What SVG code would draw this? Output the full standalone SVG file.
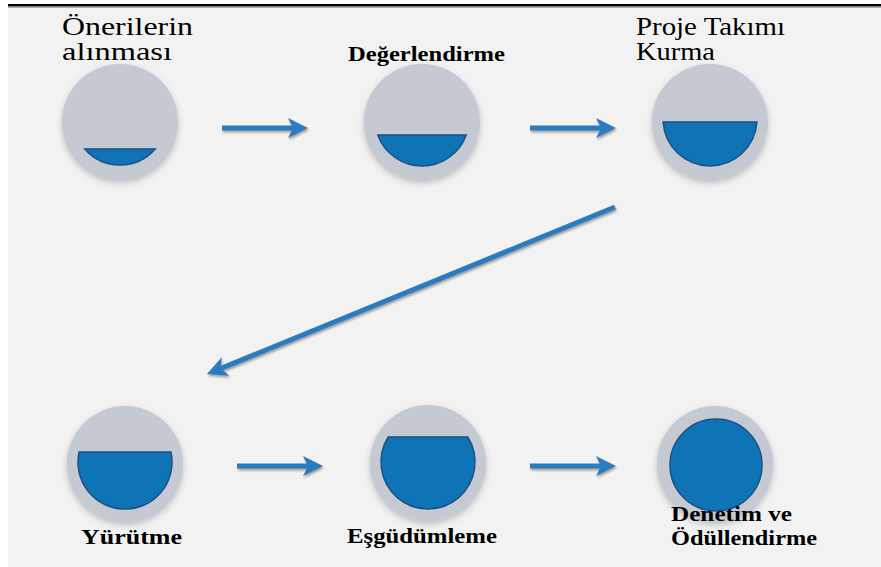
<svg xmlns="http://www.w3.org/2000/svg" width="881" height="567" viewBox="0 0 881 567">
<defs>
<style>
.bg{fill:#f2f2f2}
.disc{fill:#c5c9d1;filter:url(#halo)}
.seg{fill:#0f74b6;stroke:#1d4f86;stroke-width:1.5}
.lbl{font-family:"Liberation Serif","Times New Roman",serif;fill:#000}
.big{font-size:25px}
.mid{font-size:22px;font-weight:bold}
.arr{stroke:#2a7bc0;stroke-width:5;fill:none;marker-end:url(#head)}
</style>
<filter id="halo" x="-20%" y="-20%" width="140%" height="150%">
<feDropShadow dx="0" dy="3" stdDeviation="3" flood-color="#7d818a" flood-opacity="0.45"/>
</filter>
<filter id="ashadow" x="-10%" y="-10%" width="120%" height="130%">
<feDropShadow dx="1" dy="2" stdDeviation="0.8" flood-color="#8a8a8a" flood-opacity="0.8"/>
</filter>
<marker id="head" markerUnits="userSpaceOnUse" markerWidth="22" markerHeight="22" refX="8" refY="10" orient="auto" viewBox="0 0 22 20">
<path d="M0,0 L20,10 L0,20 L5,10 Z" fill="#2a7bc0"/>
</marker>
</defs>
<rect x="0" y="0" width="881" height="567" fill="#ffffff"/>
<rect class="bg" x="8" y="4" width="873" height="563"/>
<rect x="8" y="4" width="873" height="2.5" fill="#000"/>
<rect x="8" y="6.5" width="873" height="1.2" fill="#8c8c8c"/>

<g id="connectors" filter="url(#ashadow)">
<line class="arr" x1="222" y1="128" x2="296" y2="128"/>
<line class="arr" x1="530" y1="128" x2="604" y2="128"/>
<line class="arr" x1="615" y1="207" x2="218.1" y2="369.5"/>
<line class="arr" x1="237" y1="466" x2="311" y2="466"/>
<line class="arr" x1="530" y1="466" x2="604" y2="466"/>
</g>

<g id="n1">
<circle class="disc" cx="120" cy="122" r="58"/>
<path class="seg" d="M84.7,149 L155.3,149 A47,47 0 0 1 84.7,149 Z"/>
<text class="lbl big" x="62" y="35" textLength="131" lengthAdjust="spacingAndGlyphs">Önerilerin</text>
<text class="lbl big" x="62" y="60" textLength="110" lengthAdjust="spacingAndGlyphs">alınması</text>
</g>
<g id="n2">
<circle class="disc" cx="422" cy="122" r="58"/>
<path class="seg" d="M377.8,135 L466.2,135 A47,47 0 0 1 377.8,135 Z"/>
<text class="lbl mid" x="348" y="61" textLength="157" lengthAdjust="spacingAndGlyphs">Değerlendirme</text>
</g>
<g id="n3">
<circle class="disc" cx="710" cy="122" r="58"/>
<path class="seg" d="M663.1,122 L756.9,122 A47,47 0 0 1 663.1,122 Z"/>
<text class="lbl big" x="636" y="35" textLength="149" lengthAdjust="spacingAndGlyphs">Proje Takımı</text>
<text class="lbl big" x="636" y="60" textLength="79" lengthAdjust="spacingAndGlyphs">Kurma</text>
</g>
<g id="n4">
<circle class="disc" cx="125" cy="464" r="58"/>
<path class="seg" d="M79.1,452 L170.9,452 A47,47 0 1 1 79.1,452 Z"/>
<text class="lbl mid" x="81" y="544" textLength="101" lengthAdjust="spacingAndGlyphs">Yürütme</text>
</g>
<g id="n5">
<circle class="disc" cx="428" cy="463" r="58"/>
<path class="seg" d="M388.2,437 L467.8,437 A47,47 0 1 1 388.2,437 Z"/>
<text class="lbl mid" x="347" y="543" textLength="150" lengthAdjust="spacingAndGlyphs">Eşgüdümleme</text>
</g>
<g id="n6">
<circle class="disc" cx="715" cy="464" r="58"/>
<circle class="seg" cx="716" cy="465" r="46"/>
<text class="lbl mid" x="671" y="521" textLength="121" lengthAdjust="spacingAndGlyphs">Denetim ve</text>
<text class="lbl mid" x="671" y="545" textLength="146" lengthAdjust="spacingAndGlyphs">Ödüllendirme</text>
</g>
</svg>
